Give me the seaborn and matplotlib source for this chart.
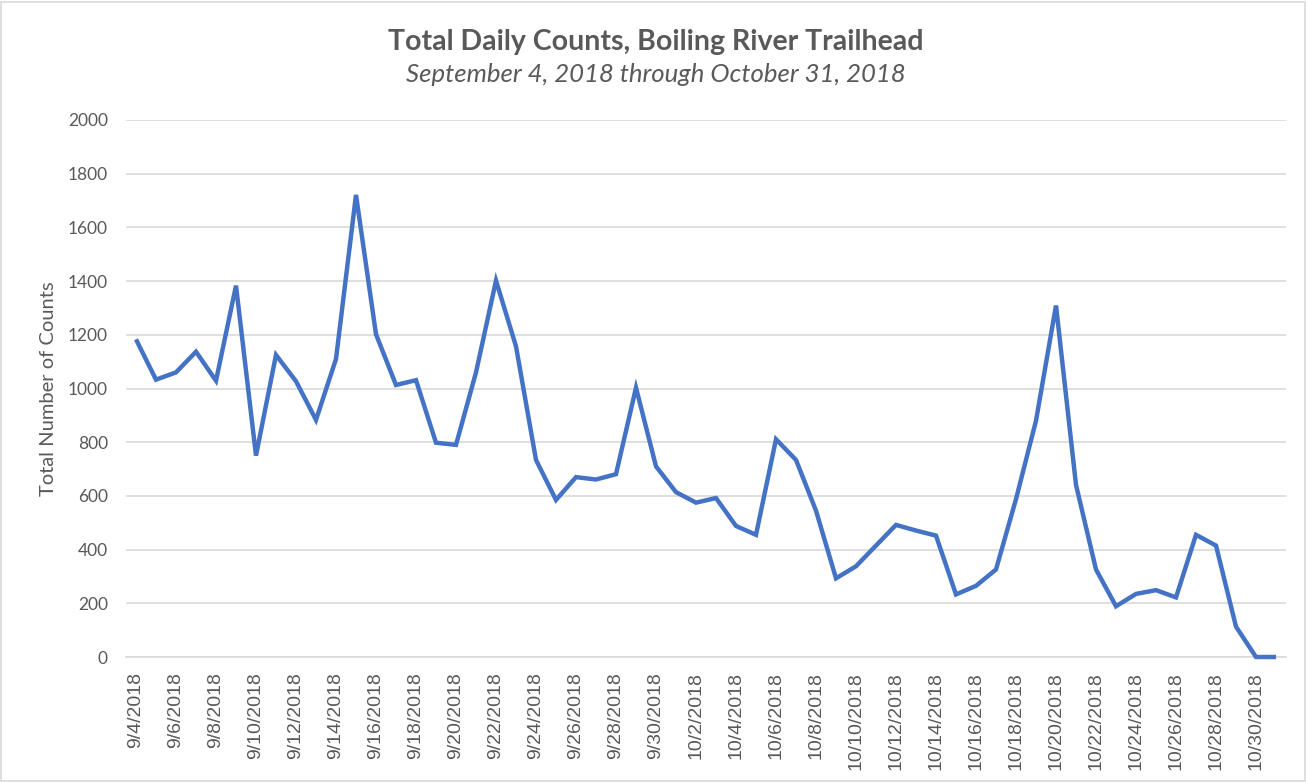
import matplotlib
matplotlib.use("Agg")
import matplotlib.pyplot as plt
import seaborn as sns
import pandas as pd
import numpy as np
from matplotlib.patches import Rectangle

# ---- data ----
dates = pd.date_range("2018-09-04", "2018-10-31", freq="D")
date_labels = [f"{d.month}/{d.day}/{d.year}" for d in dates]

sept_counts = [1183, 1033, 1060, 1137, 1029, 1383, 750, 1125, 1027, 883,
               1110, 1721, 1202, 1013, 1031, 798, 790, 1060, 1402, 1157,
               734, 585, 670, 661, 681, 1003, 710]
oct_counts = [614, 575, 592, 488, 455, 811, 734, 545, 293, 338,
              415, 492, 471, 452, 233, 265, 326, 588, 880, 1309,
              641, 326, 189, 235, 249, 222, 455, 415, 113, 0, 0]
counts = sept_counts + oct_counts

title = "Total Daily Counts, Boiling River Trailhead"
subtitle = "September 4, 2018 through October 31, 2018"
y_label = "Total Number of Counts"
y_ticks = [0, 200, 400, 600, 800, 1000, 1200, 1400, 1600, 1800, 2000]

df = pd.DataFrame({"idx": np.arange(len(counts)), "label": date_labels, "count": counts})

# ---- style ----
sns.set_theme(style="white")
plt.rcParams['font.family'] = ['Lato', 'DejaVu Sans']

W, H = 1307, 782
fig = plt.figure(figsize=(W / 100, H / 100), dpi=100)
ax = fig.add_axes([126 / W, 1 - 657 / H, (1286 - 126) / W, (657 - 120) / H])

sns.lineplot(data=df, x="idx", y="count", ax=ax, color="#4472C4", linewidth=3.2,
             solid_joinstyle="miter", solid_capstyle="butt", clip_on=False, zorder=5)

ax.set_xlim(-0.5, len(counts) - 0.5)
ax.set_ylim(0, 2000)
ax.set_yticks(y_ticks)
ax.set_yticklabels([str(v) for v in y_ticks])
ax.yaxis.grid(True, color="#D9D9D9", linewidth=1.2)
ax.set_axisbelow(True)

major = list(range(0, len(counts), 2))
ax.set_xticks(major)
ax.set_xticklabels([date_labels[i] for i in major], rotation=90, va="top", ha="center",
                   family=["Liberation Sans", "DejaVu Sans"], fontsize=14, color="#595959")
ax.set_xticks(np.arange(-0.5, len(counts), 2).tolist() + [len(counts) - 0.5], minor=True)
ax.tick_params(axis="x", which="major", length=0, pad=11)
ax.tick_params(axis="x", which="minor", length=6, width=1.2, color="#D9D9D9", direction="out")
ax.tick_params(axis="y", length=0, pad=13, labelsize=12.5, labelcolor="#595959")

for s in ["top", "right", "left"]:
    ax.spines[s].set_visible(False)
ax.spines["bottom"].set_color("#D9D9D9")
ax.spines["bottom"].set_linewidth(1.2)
ax.spines["bottom"].set_zorder(1)

ax.set_xlabel("")
ax.set_ylabel(y_label, fontsize=14.5, color="#595959", labelpad=8)

fig.text(0.502, 1 - 42 / H, title, ha="center", va="center", fontsize=20.5,
         fontweight="bold", color="#595959")
fig.text(0.502, 1 - 75 / H, subtitle, ha="center", va="center", fontsize=18.5,
         style="italic", color="#595959")

fig.patches.append(Rectangle((1 / W, 1 / H), 1 - 3 / W, 1 - 3 / H, transform=fig.transFigure,
                             fill=False, edgecolor="#D9D9D9", linewidth=1.2))

fig.savefig("out.png", dpi=100, facecolor="white")
